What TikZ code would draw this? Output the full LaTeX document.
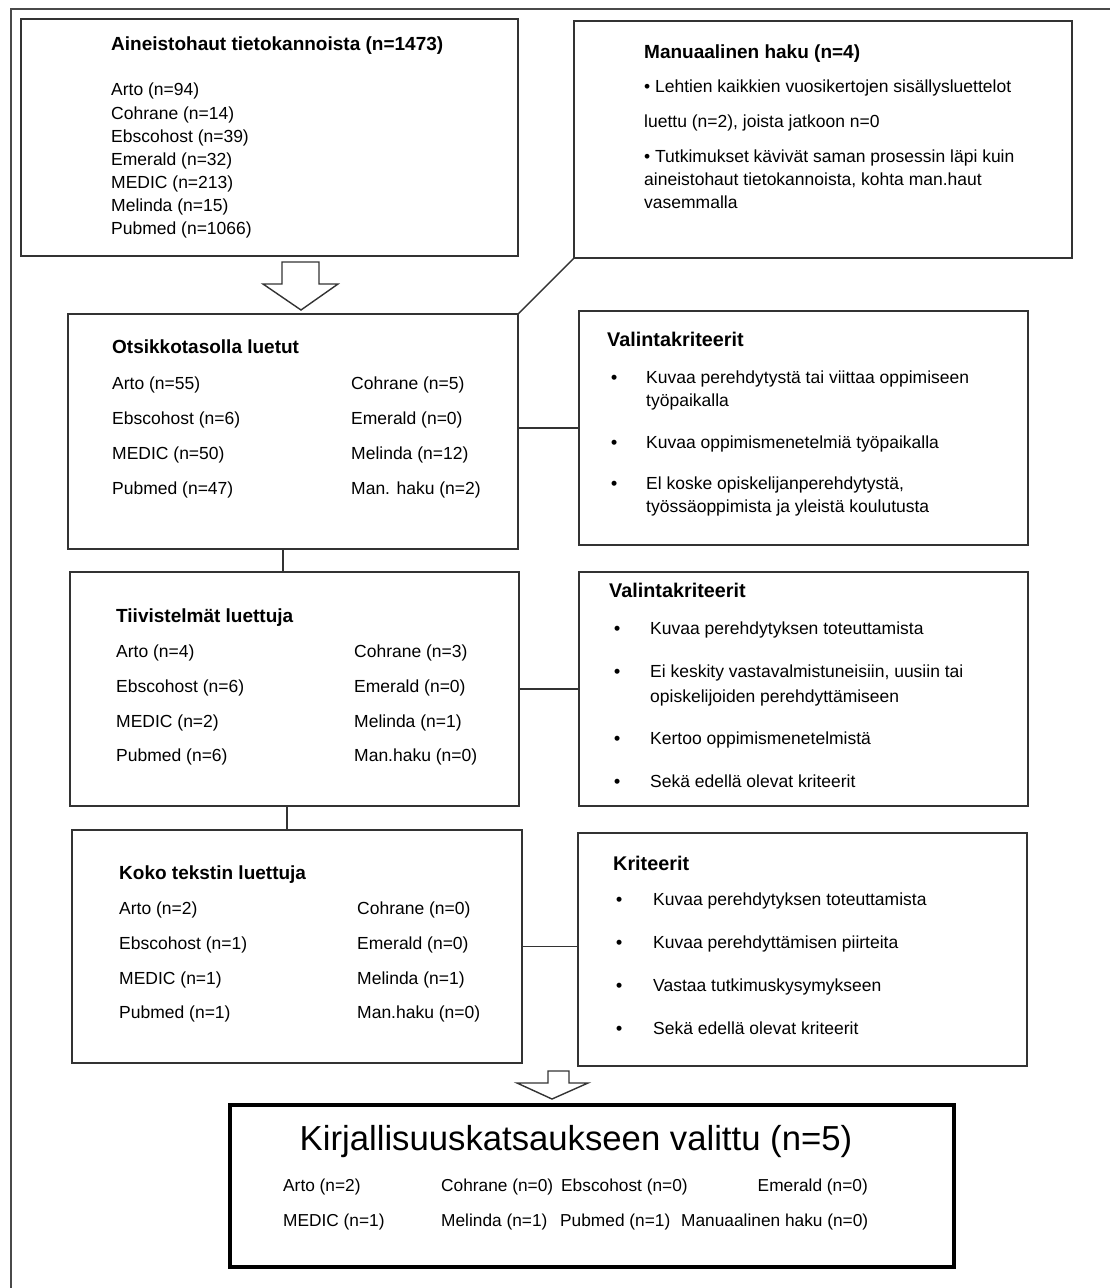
\documentclass[tikz,border=0pt]{standalone}
\usepackage{fontspec}
\setmainfont{Liberation Sans}
\definecolor{linec}{HTML}{333333}
\definecolor{framec}{HTML}{4A4A4A}
\tikzset{
  box/.style={draw=linec, line width=1.6pt, inner sep=0pt, outer sep=0pt, rectangle},
  finbox/.style={draw=black, line width=4pt, inner sep=0pt, outer sep=0pt, rectangle},
  conn/.style={draw=linec, line width=1.4pt},
  blockarrow/.style={draw=linec, line width=1.4pt, fill=white, line join=miter},
  txt/.style={anchor=base west, inner sep=0pt, font=\fontsize{17.5}{21}\selectfont},
  ttl/.style={anchor=base west, inner sep=0pt, font=\fontsize{19}{23}\selectfont\bfseries},
  ttlr/.style={anchor=base west, inner sep=0pt, font=\fontsize{19.8}{24}\selectfont\bfseries},
  bul/.style={anchor=base west, inner sep=0pt, font=\fontsize{17.5}{21}\selectfont\bfseries},
  bigttl/.style={anchor=base, inner sep=0pt, font=\fontsize{34.7}{40}\selectfont},
  small/.style={anchor=base west, inner sep=0pt, font=\fontsize{17.3}{21}\selectfont},
}
\begin{document}
\begin{tikzpicture}[x=1pt,y=-1pt]
\useasboundingbox (0,0) rectangle (1109,1288);
\fill[white] (0,0) rectangle (1109,1288);
% outer frame (only left and top visible)
\draw[framec, line width=2pt] (11,1290) -- (11,9) -- (1111,9);

% boxes
\node[box, minimum width=497pt, minimum height=237pt] (b1) at (269.5,137.5) {};
\node[box, minimum width=498pt, minimum height=237pt] (man) at (823,139.5) {};
\node[box, minimum width=450pt, minimum height=235pt] (b2) at (293,431.5) {};
\node[box, minimum width=449pt, minimum height=234pt] (v1) at (803.5,428) {};
\node[box, minimum width=449pt, minimum height=234pt] (b3) at (294.5,689) {};
\node[box, minimum width=449pt, minimum height=234pt] (v2) at (803.5,689) {};
\node[box, minimum width=450pt, minimum height=233pt] (b4) at (297,946.5) {};
\node[box, minimum width=449pt, minimum height=233pt] (kr) at (802.5,949.5) {};
\node[finbox, minimum width=724pt, minimum height=162pt] (fin) at (592,1186) {};

% connectors
\draw[conn] (b2.north east) -- (man.south west);
\draw[conn] (b2.east |- v1.west) -- (v1.west);
\draw[conn] (b3.east) -- (v2.west);
\draw[conn] (b4.east) -- (kr.west |- b4.east);
\draw[conn] ([xshift=-10pt]b2.south) -- ([xshift=-10pt]b2.south |- b3.north);
\draw[conn] ([xshift=-7.5pt]b3.south) -- ([xshift=-7.5pt]b3.south |- b4.north);

% block arrows
\draw[blockarrow] (282,262) -- (319,262) -- (319,284) -- (338,284) -- (301,310) -- (263,284) -- (282,284) -- cycle;
\draw[blockarrow] (548,1071) -- (569,1071) -- (569,1083) -- (588,1083) -- (552,1099) -- (517,1083) -- (548,1083) -- cycle;

% box 1
\node[ttl] (b1t) at (111,50) {Aineistohaut tietokannoista (n=1473)};
\node[txt] (b1a) at (111,95) {Arto (n=94)};
\node[txt] (b1b) at (111,119) {Cohrane (n=14)};
\node[txt] (b1c) at (111,142) {Ebscohost (n=39)};
\node[txt] (b1d) at (111,165) {Emerald (n=32)};
\node[txt] (b1e) at (111,188) {MEDIC (n=213)};
\node[txt] (b1f) at (111,211) {Melinda (n=15)};
\node[txt] (b1g) at (111,234) {Pubmed (n=1066)};

% manual
\node[ttl] (mt) at (644,58) {Manuaalinen haku (n=4)};
\node[txt] (ma) at (644,92) {• Lehtien kaikkien vuosikertojen sisällysluettelot};
\node[txt] (mb) at (644,127) {luettu (n=2), joista jatkoon n=0};
\node[txt] (mc) at (644,162) {• Tutkimukset kävivät saman prosessin läpi kuin};
\node[txt] (md) at (644,185) {aineistohaut tietokannoista, kohta man.haut};
\node[txt] (me) at (644,208) {vasemmalla};

% box 2
\node[ttl] (b2t) at (112,353) {Otsikkotasolla luetut};
\node[txt] (b2a) at (112,389) {Arto (n=55)};
\node[txt] (b2b) at (112,424) {Ebscohost (n=6)};
\node[txt] (b2c) at (112,459) {MEDIC (n=50)};
\node[txt] (b2d) at (112,494) {Pubmed (n=47)};
\node[txt] (b2e) at (351,389) {Cohrane (n=5)};
\node[txt] (b2f) at (351,424) {Emerald (n=0)};
\node[txt] (b2g) at (351,459) {Melinda (n=12)};
\node[txt] (b2h) at (351,494) {Man. haku (n=2)};

% box 3
\node[ttl] (b3t) at (116,622) {Tiivistelmät luettuja};
\node[txt] (b3a) at (116,657) {Arto (n=4)};
\node[txt] (b3b) at (116,692) {Ebscohost (n=6)};
\node[txt] (b3c) at (116,727) {MEDIC (n=2)};
\node[txt] (b3d) at (116,761) {Pubmed (n=6)};
\node[txt] (b3e) at (354,657) {Cohrane (n=3)};
\node[txt] (b3f) at (354,692) {Emerald (n=0)};
\node[txt] (b3g) at (354,727) {Melinda (n=1)};
\node[txt] (b3h) at (354,761) {Man.haku (n=0)};

% box 4
\node[ttl] (b4t) at (119,879) {Koko tekstin luettuja};
\node[txt] (b4a) at (119,914) {Arto (n=2)};
\node[txt] (b4b) at (119,949) {Ebscohost (n=1)};
\node[txt] (b4c) at (119,984) {MEDIC (n=1)};
\node[txt] (b4d) at (119,1018) {Pubmed (n=1)};
\node[txt] (b4e) at (357,914) {Cohrane (n=0)};
\node[txt] (b4f) at (357,949) {Emerald (n=0)};
\node[txt] (b4g) at (357,984) {Melinda (n=1)};
\node[txt] (b4h) at (357,1018) {Man.haku (n=0)};

% valinta 1
\node[ttlr] (v1t) at (607,346) {Valintakriteerit};
\node[bul] (v1b1) at (611,383) {•};
\node[txt] (v1a) at (646,383) {Kuvaa perehdytystä tai viittaa oppimiseen};
\node[txt] (v1a2) at (646,406) {työpaikalla};
\node[bul] (v1b2) at (611,448) {•};
\node[txt] (v1c) at (646,448) {Kuvaa oppimismenetelmiä työpaikalla};
\node[bul] (v1b3) at (611,489) {•};
\node[txt] (v1d) at (646,489) {El koske opiskelijanperehdytystä,};
\node[txt] (v1d2) at (646,512) {työssäoppimista ja yleistä koulutusta};

% valinta 2
\node[ttlr] (v2t) at (609,597) {Valintakriteerit};
\node[bul] (v2b1) at (614,634) {•};
\node[txt] (v2a) at (650,634) {Kuvaa perehdytyksen toteuttamista};
\node[bul] (v2b2) at (614,677) {•};
\node[txt] (v2b) at (650,677) {Ei keskity vastavalmistuneisiin, uusiin tai};
\node[txt] (v2b2t) at (650,702) {opiskelijoiden perehdyttämiseen};
\node[bul] (v2b3) at (614,744) {•};
\node[txt] (v2c) at (650,744) {Kertoo oppimismenetelmistä};
\node[bul] (v2b4) at (614,787) {•};
\node[txt] (v2d) at (650,787) {Sekä edellä olevat kriteerit};

% kriteerit
\node[ttlr] (krt) at (613,870) {Kriteerit};
\node[bul] (krb1) at (616,905) {•};
\node[txt] (kra) at (653,905) {Kuvaa perehdytyksen toteuttamista};
\node[bul] (krb2) at (616,948) {•};
\node[txt] (krb) at (653,948) {Kuvaa perehdyttämisen piirteita};
\node[bul] (krb3) at (616,991) {•};
\node[txt] (krc) at (653,991) {Vastaa tutkimuskysymykseen};
\node[bul] (krb4) at (616,1034) {•};
\node[txt] (krd) at (653,1034) {Sekä edellä olevat kriteerit};

% final
\node[bigttl] (ft) at (576,1150) {Kirjallisuuskatsaukseen valittu (n=5)};
\node[small] (fa) at (283,1191) {Arto (n=2)};
\node[small] (fb) at (441,1191) {Cohrane (n=0)};
\node[small] (fc) at (561,1191) {Ebscohost (n=0)};
\node[small, anchor=base east] (fd) at (868,1191) {Emerald (n=0)};
\node[small] (fe) at (283,1226) {MEDIC (n=1)};
\node[small] (ff) at (441,1226) {Melinda (n=1)};
\node[small] (fg) at (560,1226) {Pubmed (n=1)};
\node[small] (fh) at (681,1226) {Manuaalinen haku (n=0)};
\end{tikzpicture}
\end{document}
